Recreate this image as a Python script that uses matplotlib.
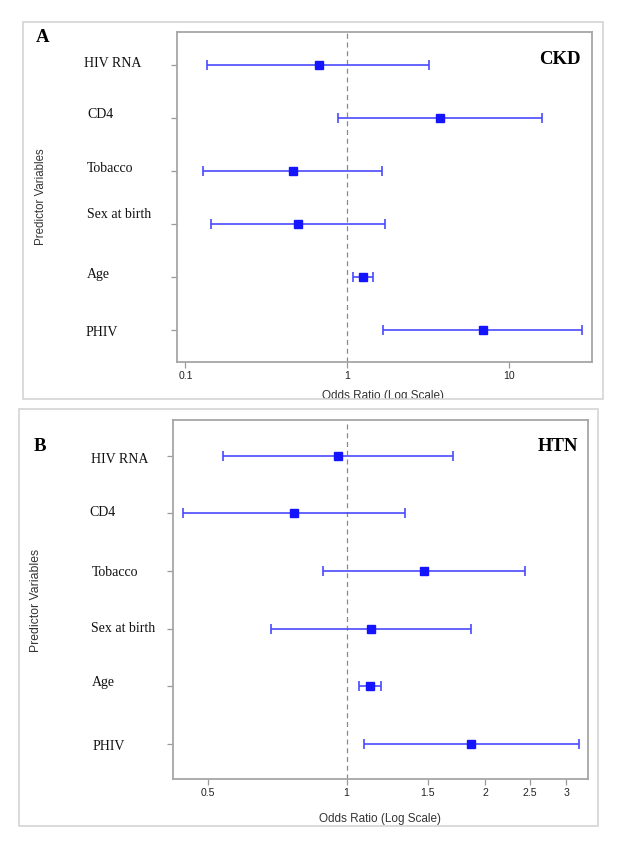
import numpy as np
import matplotlib
matplotlib.use('Agg')
import matplotlib.pyplot as plt
from matplotlib.patches import Rectangle
from matplotlib.transforms import Bbox, TransformedBbox

## Data (odds ratios with 95% CI)
predictors = ['HIV RNA', 'CD4', 'Tobacco', 'Sex at birth', 'Age', 'PHIV']

ckd_or = [0.665, 3.76, 0.462, 0.493, 1.245, 6.88]
ckd_lo = [0.135, 0.881, 0.129, 0.143, 1.08, 1.67]
ckd_hi = [3.22, 16.0, 1.65, 1.70, 1.445, 28.4]

htn_or = [0.960, 0.770, 1.476, 1.129, 1.125, 1.867]
htn_lo = [0.540, 0.441, 0.887, 0.686, 1.065, 1.089]
htn_hi = [1.704, 1.341, 2.449, 1.867, 1.186, 3.20]

ckd_ticks = [0.1, 1, 10]
ckd_ticklabels = ['0.1', '1', '10']
htn_ticks = [0.5, 1, 1.5, 2, 2.5, 3]
htn_ticklabels = ['0.5', '1', '1.5', '2', '2.5', '3']

W, H = 635, 849
SERIF = 'Liberation Serif'
SANS = 'Liberation Sans'


def fx(x):
    return x / W


def fy(y):
    return 1 - y / H


fig = plt.figure(figsize=(W / 100, H / 100), dpi=100)

# outer panel frames
frames = [(23.3, 22.3, 602.7, 399.3), (19.4, 409.3, 598, 825.7)]
for (x0, y0, x1, y1) in frames:
    fig.patches.append(Rectangle((fx(x0), fy(y1)), fx(x1 - x0), (y1 - y0) / H,
                                 transform=fig.transFigure, fill=False,
                                 edgecolor='#d4d4d4', lw=1.2, zorder=10))


def panel(box, orr, lo, hi, xlim, ticks, ticklabels, lab_x, lab_dy):
    x0, y0, x1, y1 = box
    ax = fig.add_axes([fx(x0), fy(y1), fx(x1 - x0), (y1 - y0) / H])
    y = np.arange(len(predictors))
    orr = np.array(orr)
    err = [orr - np.array(lo), np.array(hi) - orr]
    ax.axvline(1, color='#8a8a8a', ls=(0, (4, 3)), lw=0.9, zorder=1)
    ax.errorbar(orr, y, xerr=err, fmt='none', ecolor='#4a4aff', elinewidth=1.2,
                capsize=3.4, capthick=1.2, zorder=2)
    ax.plot(orr, y, 's', color='#1414ff', markersize=5.6, zorder=3)
    ax.set_xscale('log')
    ax.set_xlim(*xlim)
    ax.set_ylim(len(predictors) - 1 + 0.61, -0.61)
    ax.set_xticks(ticks)
    ax.set_xticklabels(ticklabels, fontsize=7.6, family=SANS, color='#222222')
    ax.xaxis.set_minor_locator(matplotlib.ticker.NullLocator())
    ax.set_yticks(y)
    ax.set_yticklabels([])
    ax.tick_params(axis='both', length=4, width=0.9, color='#9a9a9a', pad=2.5)
    for s in ax.spines.values():
        s.set_color('#a6a6a6')
        s.set_linewidth(1.3)
    for i, name in enumerate(predictors):
        ax.annotate(name, xy=(0, i), xycoords=ax.get_yaxis_transform(),
                    xytext=((lab_x[i] - x0) * 0.72, -lab_dy[i] * 0.72),
                    textcoords='offset points', ha='left', va='center',
                    fontsize=10, family=SERIF, color='#111111')
    return ax


panel((177.3, 32.3, 591.7, 362.3), ckd_or, ckd_lo, ckd_hi, (0.0891, 32.4),
      ckd_ticks, ckd_ticklabels,
      [83.8, 87, 87, 87, 87, 85.8], [-1.4, -3.4, -2.4, -9, -2, 2.3])
panel((173.3, 420.3, 587.7, 779.4), htn_or, htn_lo, htn_hi, (0.420, 3.344),
      htn_ticks, htn_ticklabels,
      [91.4, 89.8, 91.4, 91.4, 91.4, 92.2], [3.6, -0.7, 1.3, -0.7, -4, 2])

# panel letters and outcome titles
fig.text(fx(36), fy(37.5), 'A', fontsize=13.5, fontweight='bold', family=SERIF,
         ha='left', va='center')
fig.text(fx(581), fy(60), 'CKD', fontsize=13.5, fontweight='bold', family=SERIF,
         ha='right', va='center')
fig.text(fx(34), fy(447), 'B', fontsize=13.5, fontweight='bold', family=SERIF,
         ha='left', va='center')
fig.text(fx(578), fy(447), 'HTN', fontsize=13.5, fontweight='bold', family=SERIF,
         ha='right', va='center')

# axis titles
fig.text(fx(40.5), fy(197), 'Predictor Variables', rotation=90, fontsize=8.3,
         family=SANS, color='#333333', ha='center', va='center')
fig.text(fx(36.4), fy(600), 'Predictor Variables', rotation=90, fontsize=8.8,
         family=SANS, color='#333333', ha='center', va='center')
xa = fig.text(fx(383), fy(396), 'Odds Ratio (Log Scale)', fontsize=8.5,
              family=SANS, color='#333333', ha='center', va='center')
# bottom of panel A's axis title is cut off by its frame
x0, y0, x1, y1 = frames[0]
xa.set_clip_box(TransformedBbox(Bbox([[fx(x0), fy(y1)], [fx(x1), fy(y0)]]),
                                fig.transFigure))
xa.set_clip_on(True)
fig.text(fx(380), fy(819), 'Odds Ratio (Log Scale)', fontsize=8.5,
         family=SANS, color='#333333', ha='center', va='center')

fig.savefig('out.png', dpi=100)
